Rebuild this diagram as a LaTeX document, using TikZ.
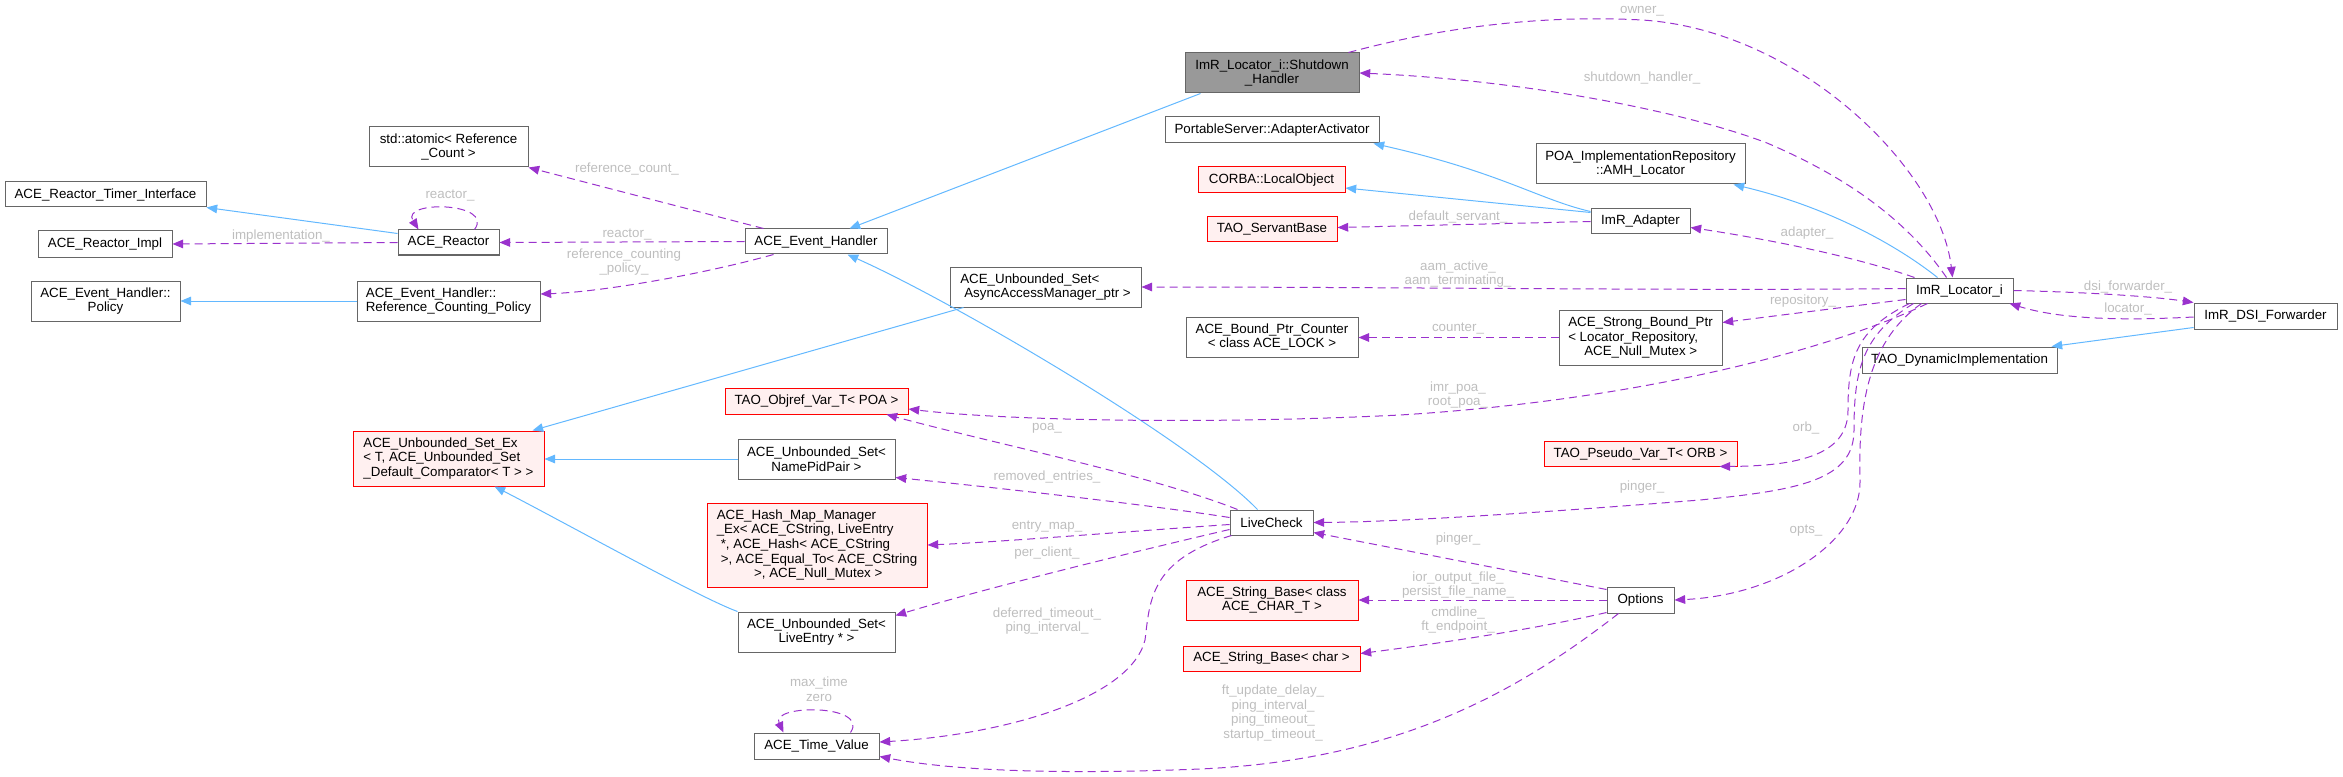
\documentclass[tikz,border=0pt]{standalone}
\usepackage{fontspec}
\setmainfont{Liberation Sans}
\usetikzlibrary{arrows.meta,calc}
\definecolor{boxgray}{HTML}{666666}
\definecolor{shutfill}{HTML}{999999}
\definecolor{redfill}{HTML}{FFF0F0}
\definecolor{inhblue}{HTML}{63B8FF}
\definecolor{mempurple}{HTML}{9A32CD}
\definecolor{lblgray}{HTML}{BEBEBE}
\begin{document}
\begin{tikzpicture}[x=0.75pt,y=-0.75pt,
 every node/.style={font=\fontsize{10}{11}\selectfont},
 box/.style={draw=boxgray, fill=white, line width=0.75pt, inner sep=0pt, align=center},
 redbox/.style={box, draw=red, fill=redfill},
 wh/.style 2 args={minimum width=#1*0.75pt, minimum height=#2*0.75pt},
 inh/.style={draw=inhblue, line width=0.75pt, -{Triangle[length=8pt,width=6.5pt]}},
 mem/.style={draw=mempurple, line width=0.75pt, dash pattern=on 6pt off 3.75pt, -{Triangle[length=8pt,width=6.5pt]}},
 lbl/.style={text=lblgray, inner sep=0pt, align=center}]
\useasboundingbox (0,0) rectangle (2343,777);

% nodes
\node[box, fill=shutfill, wh={174}{40}] (shut) at (1272,73) {ImR\_Locator\_i::Shutdown\\\_Handler};
\node[box, wh={159}{40}] (atomic) at (448.5,147) {std::atomic< Reference\\\_Count >};
\node[box, wh={201}{25}] (timer) at (105.5,194.5) {ACE\_Reactor\_Timer\_Interface};
\node[box, wh={134}{26}] (rimpl) at (105,244) {ACE\_Reactor\_Impl};
\node[box, wh={149}{40}] (policy) at (105.5,301) {ACE\_Event\_Handler::\\Policy};
\node[box, wh={101}{25}] (reactor) at (448.5,242.5) {ACE\_Reactor};
\node[box, align=left, wh={183}{40}] (rcp) at (448.5,301) {ACE\_Event\_Handler::\\Reference\_Counting\_Policy};
\node[redbox, align=left, wh={191}{55}] (useex) at (448.5,458.5) {ACE\_Unbounded\_Set\_Ex\\< T, ACE\_Unbounded\_Set\\\_Default\_Comparator< T > >};
\node[box, wh={142}{25}] (eh) at (816,241.5) {ACE\_Event\_Handler};
\node[box, align=left, wh={191}{40}] (async) at (1045.5,287) {ACE\_Unbounded\_Set<\\\hspace*{3pt}AsyncAccessManager\_ptr >};
\node[redbox, wh={183}{26}] (objref) at (816.5,401) {TAO\_Objref\_Var\_T< POA >};
\node[box, wh={157}{40}] (npp) at (816.5,459) {ACE\_Unbounded\_Set<\\NamePidPair >};
\node[redbox, align=left, wh={220}{84}] (hmap) at (817,545) {ACE\_Hash\_Map\_Manager\\\_Ex< ACE\_CString, LiveEntry\\\hspace*{3pt}*, ACE\_Hash< ACE\_CString\\\hspace*{3pt}>, ACE\_Equal\_To< ACE\_CString\\\hspace*{28pt}>, ACE\_Null\_Mutex >};
\node[box, wh={157}{40}] (lentry) at (816.5,632) {ACE\_Unbounded\_Set<\\LiveEntry * >};
\node[box, wh={125}{26}] (tv) at (816.5,746) {ACE\_Time\_Value};
\node[box, wh={214}{26}] (aa) at (1272,130) {PortableServer::AdapterActivator};
\node[redbox, wh={147}{26}] (lo) at (1271.5,180) {CORBA::LocalObject};
\node[redbox, wh={130}{25}] (sb) at (1272,229.5) {TAO\_ServantBase};
\node[box, wh={209}{40}] (amh) at (1640.5,164) {POA\_ImplementationRepository\\::AMH\_Locator};
\node[box, wh={99}{25}] (adapter) at (1640.5,221.5) {ImR\_Adapter};
\node[box, wh={172}{40}] (bpc) at (1272,337) {ACE\_Bound\_Ptr\_Counter\\< class ACE\_LOCK >};
\node[box, align=left, wh={163}{55}] (sbp) at (1640.5,337.5) {ACE\_Strong\_Bound\_Ptr\\< Locator\_Repository,\\\hspace*{12pt}ACE\_Null\_Mutex >};
\node[redbox, wh={193}{25}] (pseudo) at (1640.5,453.5) {TAO\_Pseudo\_Var\_T< ORB >};
\node[box, wh={83}{25}] (lc) at (1271.5,522.5) {LiveCheck};
\node[redbox, wh={172}{40}] (sbc) at (1272,600) {ACE\_String\_Base< class\\ACE\_CHAR\_T >};
\node[redbox, wh={177}{25}] (sbchar) at (1271.5,658.5) {ACE\_String\_Base< char >};
\node[box, wh={67}{26}] (opts) at (1640.5,600) {Options};
\node[box, wh={107}{25}] (loc) at (1959.5,290.5) {ImR\_Locator\_i};
\node[box, wh={143}{26}] (dsi) at (2265.5,316) {ImR\_DSI\_Forwarder};
\node[box, wh={195}{26}] (dyn) at (1959.5,360) {TAO\_DynamicImplementation};

% inheritance
\draw[inh] ($(reactor.north west)+(0,4)$) -- (timer.south east);
\draw[inh] (rcp.west) -- (policy.east);
\draw[inh] ($(shut.south west)+(16,0)$) -- ($(eh.north east)+(-38,0)$);
\draw[inh] ($(lc.north)+(-14,0)$) .. controls (1190,440) and (950,300) .. ($(eh.south east)+(-40,0)$);
\draw[inh] ($(async.south west)+(14,0)$) -- ($(useex.north east)+(-12,0)$);
\draw[inh] (npp.west) -- (npp.west -| useex.east);
\draw[inh] (lentry.north west) .. controls (700,598) and (560,520) .. ($(useex.south east)+(-50,0)$);
\draw[inh] ($(adapter.north west)+(0,3)$) .. controls (1540,200) and (1500,172) .. ($(aa.south east)+(-6,0)$);
\draw[inh] ($(adapter.north west)+(0,4)$) -- ($(lo.east)+(0,8)$);
\draw[inh] ($(loc.north west)+(32,0)$) .. controls (1890,240) and (1820,205) .. ($(amh.south east)+(-12,0)$);
\draw[inh] ($(dsi.south west)+(0,-2)$) -- ($(dyn.north east)+(-6,0)$);

% members
\draw[mem] (reactor.west) -- (rimpl.east);
\node[lbl] at (281,236) {implementation\_};
\draw[mem] ($(reactor.north)+(26,0)$) .. controls (495,202) and (400,200) .. ($(reactor.north)+(-30,0)$);
\node[lbl] at (450,196) {reactor\_};
\draw[mem] (eh.west) -- (reactor.east);
\node[lbl] at (627,235) {reactor\_};
\draw[mem] ($(eh.north west)+(19,0)$) -- (atomic.south east);
\node[lbl] at (627,169) {reference\_count\_};
\draw[mem] ($(eh.south west)+(29,0)$) .. controls (700,275) and (600,292) .. ($(rcp.east)+(0,-7)$);
\node[lbl] at (624,262) {reference\_counting\\\_policy\_};

\draw[mem] ($(shut.north east)+(-11,0)$) .. controls (1450,25) and (1550,15) .. (1642,20) .. controls (1800,30) and (1940,170) .. ($(loc.north west)+(47,0)$);
\node[lbl] at (1642,11) {owner\_};
\draw[mem] ($(loc.north west)+(41,0)$) .. controls (1900,210) and (1830,170) .. (1767,143) .. controls (1680,110) and (1520,80) .. (shut.east);
\node[lbl] at (1642,78) {shutdown\_handler\_};
\draw[mem] ($(loc.north west)+(9,0)$) .. controls (1850,255) and (1760,238) .. ($(adapter.east)+(0,6)$);
\node[lbl] at (1807,233) {adapter\_};
\draw[mem] (adapter.west) -- ($(sb.east)+(0,-2)$);
\node[lbl] at (1458,217) {default\_servant\_};
\draw[mem] ($(loc.west)+(0,-2)$) .. controls (1700,291) and (1400,287) .. (async.east);
\node[lbl] at (1458,274) {aam\_active\_\\aam\_terminating\_};
\draw[mem] ($(loc.south west)+(0,-4)$) -- ($(sbp.north east)+(0,13)$);
\node[lbl] at (1803,301) {repository\_};
\draw[mem] (sbp.west) -- (sbp.west -| bpc.east);
\node[lbl] at (1458,329) {counter\_};
\draw[mem] ($(loc.south west)+(22,0)$) .. controls (1830,350) and (1640,400) .. (1400,415) .. controls (1200,425) and (1000,420) .. ($(objref.east)+(0,8)$);
\node[lbl] at (1458,395) {imr\_poa\_\\root\_poa\_};
\draw[mem] ($(loc.south west)+(4,0)$) .. controls (1855,330) and (1848,360) .. (1848,410) .. controls (1848,450) and (1810,466) .. ($(pseudo.south east)+(-18,0)$);
\node[lbl] at (1806,428) {orb\_};
\draw[mem] ($(loc.south west)+(8,0)$) .. controls (1862,335) and (1854,370) .. (1854,430) .. controls (1854,480) and (1800,490) .. (1700,500) .. controls (1550,512) and (1400,522) .. (lc.east);
\node[lbl] at (1642,487) {pinger\_};
\draw[mem] ($(loc.south west)+(16,0)$) .. controls (1870,340) and (1858,400) .. (1860,480) .. controls (1862,540) and (1780,595) .. (opts.east);
\node[lbl] at (1806,531) {opts\_};
\draw[mem] (loc.east) .. controls (2080,292) and (2150,296) .. (dsi.north west);
\node[lbl] at (2128,287) {dsi\_forwarder\_};
\draw[mem] ($(dsi.west)+(0,1)$) .. controls (2100,322) and (2050,316) .. ($(loc.south east)+(-4,0)$);
\node[lbl] at (2128,309) {locator\_};

\draw[mem] ($(lc.north west)+(8,0)$) .. controls (1150,475) and (1000,445) .. ($(objref.south east)+(-22,0)$);
\node[lbl] at (1047,428) {poa\_};
\draw[mem] ($(lc.west)+(0,-5)$) .. controls (1150,505) and (1000,488) .. ($(npp.south east)+(0,-2)$);
\node[lbl] at (1047,477) {removed\_entries\_};
\draw[mem] ($(lc.west)+(0,2)$) .. controls (1120,532) and (1000,542) .. (hmap.east);
\node[lbl] at (1047,527) {entry\_map\_};
\draw[mem] ($(lc.west)+(0,7)$) .. controls (1120,555) and (980,590) .. ($(lentry.north east)+(0,4)$);
\node[lbl] at (1047,553) {per\_client\_};
\draw[mem] ($(lc.south west)+(2,0)$) .. controls (1150,560) and (1150,600) .. (1145,640) .. controls (1130,700) and (1000,735) .. ($(tv.east)+(0,-4)$);
\node[lbl] at (1047,621) {deferred\_timeout\_\\ping\_interval\_};

\draw[mem] ($(opts.north west)+(0,3)$) -- ($(lc.south east)+(0,-3)$);
\node[lbl] at (1458,539) {pinger\_};
\draw[mem] (opts.west) -- (opts.west -| sbc.east);
\node[lbl] at (1458,585) {ior\_output\_file\_\\persist\_file\_name\_};
\draw[mem] ($(opts.south west)+(0,-1)$) .. controls (1540,628) and (1450,642) .. ($(sbchar.east)+(0,-5)$);
\node[lbl] at (1458,620) {cmdline\_\\ft\_endpoint\_};
\draw[mem] ($(opts.south west)+(12,0)$) .. controls (1520,690) and (1400,760) .. (1200,769) .. controls (1050,775) and (950,770) .. ($(tv.south east)+(0,-3)$);
\node[lbl] at (1273,713) {ft\_update\_delay\_\\ping\_interval\_\\ping\_timeout\_\\startup\_timeout\_};

\draw[mem] ($(tv.north west)+(97,0)$) .. controls (870,704) and (770,704) .. ($(tv.north west)+(30,0)$);
\node[lbl] at (819,689) {max\_time\\zero};
\end{tikzpicture}
\end{document}
